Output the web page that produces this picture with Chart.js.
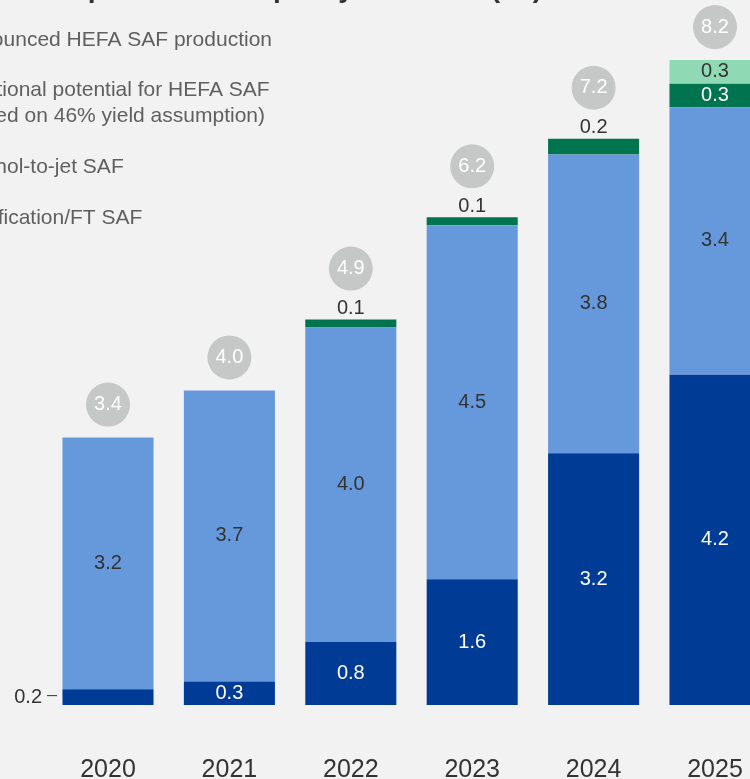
<!DOCTYPE html>
<html lang="en">
<head>
    <meta charset="UTF-8">
    <title>SAF production capacity</title>
    <script src="https://cdn.jsdelivr.net/npm/chart.js"></script>
    <style>
        html, body { margin: 0; padding: 0; background: #f2f2f2; }
        #wrap { width: 750px; height: 779px; overflow: hidden; position: relative; }
        #wrap canvas { position: absolute; left: 0; top: 0; }
    </style>
</head>
<body>
    <div id="wrap">
        <canvas id="safChart" width="800" height="779"></canvas>
    </div>
    <script>
        // values (Mt)
        const years = ['2020', '2021', '2022', '2023', '2024', '2025'];
        const announcedHefa = [0.2, 0.3, 0.8, 1.6, 3.2, 4.2];
        const additionalHefa = [3.2, 3.7, 4.0, 4.5, 3.8, 3.4];
        const alcoholToJet = [0, 0, 0.1, 0.1, 0.2, 0.3];
        const gasificationFt = [0, 0, 0, 0, 0, 0.3];
        const totals = [3.4, 4.0, 4.9, 6.2, 7.2, 8.2];

        const legendLines = [
            ['Announced HEFA SAF production', 40],
            ['Additional potential for HEFA SAF', 90],
            ['(based on 46% yield assumption)', 116],
            ['Alcohol-to-jet SAF', 167],
            ['Gasification/FT SAF', 218]
        ];
        const titleText = 'Announced and potential SAF production capacity in the US (Mt)';

        const FONT = '"Liberation Sans", Arial, sans-serif';
        const colors = ['#003c96', '#6699db', '#00734f', '#90d9b5'];

        // labels, bubbles, legend text and title
        const overlay = {
            id: 'overlay',
            afterDatasetsDraw(chart) {
                const ctx = chart.ctx;
                const yScale = chart.scales.y;
                const metas = [0, 1, 2, 3].map(i => chart.getDatasetMeta(i));
                ctx.save();
                ctx.textAlign = 'center';
                ctx.textBaseline = 'middle';
                ctx.font = '20px ' + FONT;

                years.forEach((yr, i) => {
                    const dark = metas[0].data[i];
                    const light = metas[1].data[i];
                    const dg = metas[2].data[i];
                    const lg = metas[3].data[i];
                    const x = dark.x;

                    // announced HEFA
                    if (i === 0) {
                        const yy = (dark.y + dark.base) / 2;
                        ctx.fillStyle = '#333';
                        ctx.textAlign = 'right';
                        ctx.fillText(announcedHefa[i].toFixed(1), 42, yy);
                        ctx.textAlign = 'center';
                        ctx.strokeStyle = '#333';
                        ctx.lineWidth = 1;
                        ctx.beginPath();
                        ctx.moveTo(47, yy - 1.5);
                        ctx.lineTo(57, yy - 1.5);
                        ctx.stroke();
                    } else {
                        ctx.fillStyle = '#fff';
                        ctx.fillText(announcedHefa[i].toFixed(1), x, (dark.y + dark.base) / 2);
                    }

                    // additional HEFA
                    ctx.fillStyle = '#333';
                    ctx.fillText(additionalHefa[i].toFixed(1), x, (light.y + light.base) / 2);

                    const top = yScale.getPixelForValue(totals[i]);
                    let above = false;
                    if (gasificationFt[i] > 0) {
                        ctx.fillStyle = '#fff';
                        ctx.fillText(alcoholToJet[i].toFixed(1), x, (dg.y + dg.base) / 2);
                        ctx.fillStyle = '#333';
                        ctx.fillText(gasificationFt[i].toFixed(1), x, (lg.y + lg.base) / 2);
                    } else if (alcoholToJet[i] > 0) {
                        ctx.fillStyle = '#333';
                        ctx.fillText(alcoholToJet[i].toFixed(1), x, top - 11);
                        above = true;
                    }

                    // total bubble
                    const cy = top - (above ? 51 : 33);
                    ctx.fillStyle = '#c6c8c8';
                    ctx.beginPath();
                    ctx.arc(x, cy, 22, 0, Math.PI * 2);
                    ctx.fill();
                    ctx.fillStyle = '#fff';
                    ctx.fillText(totals[i].toFixed(1), x, cy);
                });

                // legend text (cut at the left edge)
                ctx.font = '21px ' + FONT;
                ctx.fillStyle = '#5f5f5f';
                ctx.textAlign = 'left';
                const x0 = 272 - ctx.measureText(legendLines[0][0]).width;
                legendLines.forEach(([t, y]) => ctx.fillText(t, x0, y));

                // title (only its descenders remain in view)
                ctx.font = 'bold 28px ' + FONT;
                ctx.fillStyle = '#333';
                ctx.textAlign = 'right';
                ctx.textBaseline = 'alphabetic';
                ctx.fillText(titleText, 542, -3);
                ctx.restore();
            }
        };

        const config = {
            type: 'bar',
            data: {
                labels: years,
                datasets: [
                    { label: 'Announced HEFA SAF production', data: announcedHefa, backgroundColor: colors[0] },
                    { label: 'Additional potential for HEFA SAF', data: additionalHefa, backgroundColor: colors[1] },
                    { label: 'Alcohol-to-jet SAF', data: alcoholToJet, backgroundColor: colors[2] },
                    { label: 'Gasification/FT SAF', data: gasificationFt, backgroundColor: colors[3] }
                ]
            },
            options: {
                responsive: false,
                animation: false,
                layout: { padding: { left: 47.3, right: 24.3, top: 5, bottom: 0 } },
                datasets: { bar: { categoryPercentage: 1, barPercentage: 0.75, borderWidth: 0 } },
                scales: {
                    x: {
                        stacked: true,
                        grid: { display: false, drawTicks: false },
                        border: { display: false },
                        ticks: {
                            color: '#333',
                            font: { family: FONT, size: 25 },
                            padding: 50
                        },
                        afterFit(scale) { scale.height = 74; }
                    },
                    y: {
                        stacked: true,
                        display: false,
                        min: 0,
                        max: 8.9
                    }
                },
                plugins: {
                    legend: { display: false },
                    tooltip: { enabled: false },
                    title: { display: false }
                }
            },
            plugins: [overlay]
        };

        const safChart = new Chart(document.getElementById('safChart'), config);
    </script>
</body>
</html>
